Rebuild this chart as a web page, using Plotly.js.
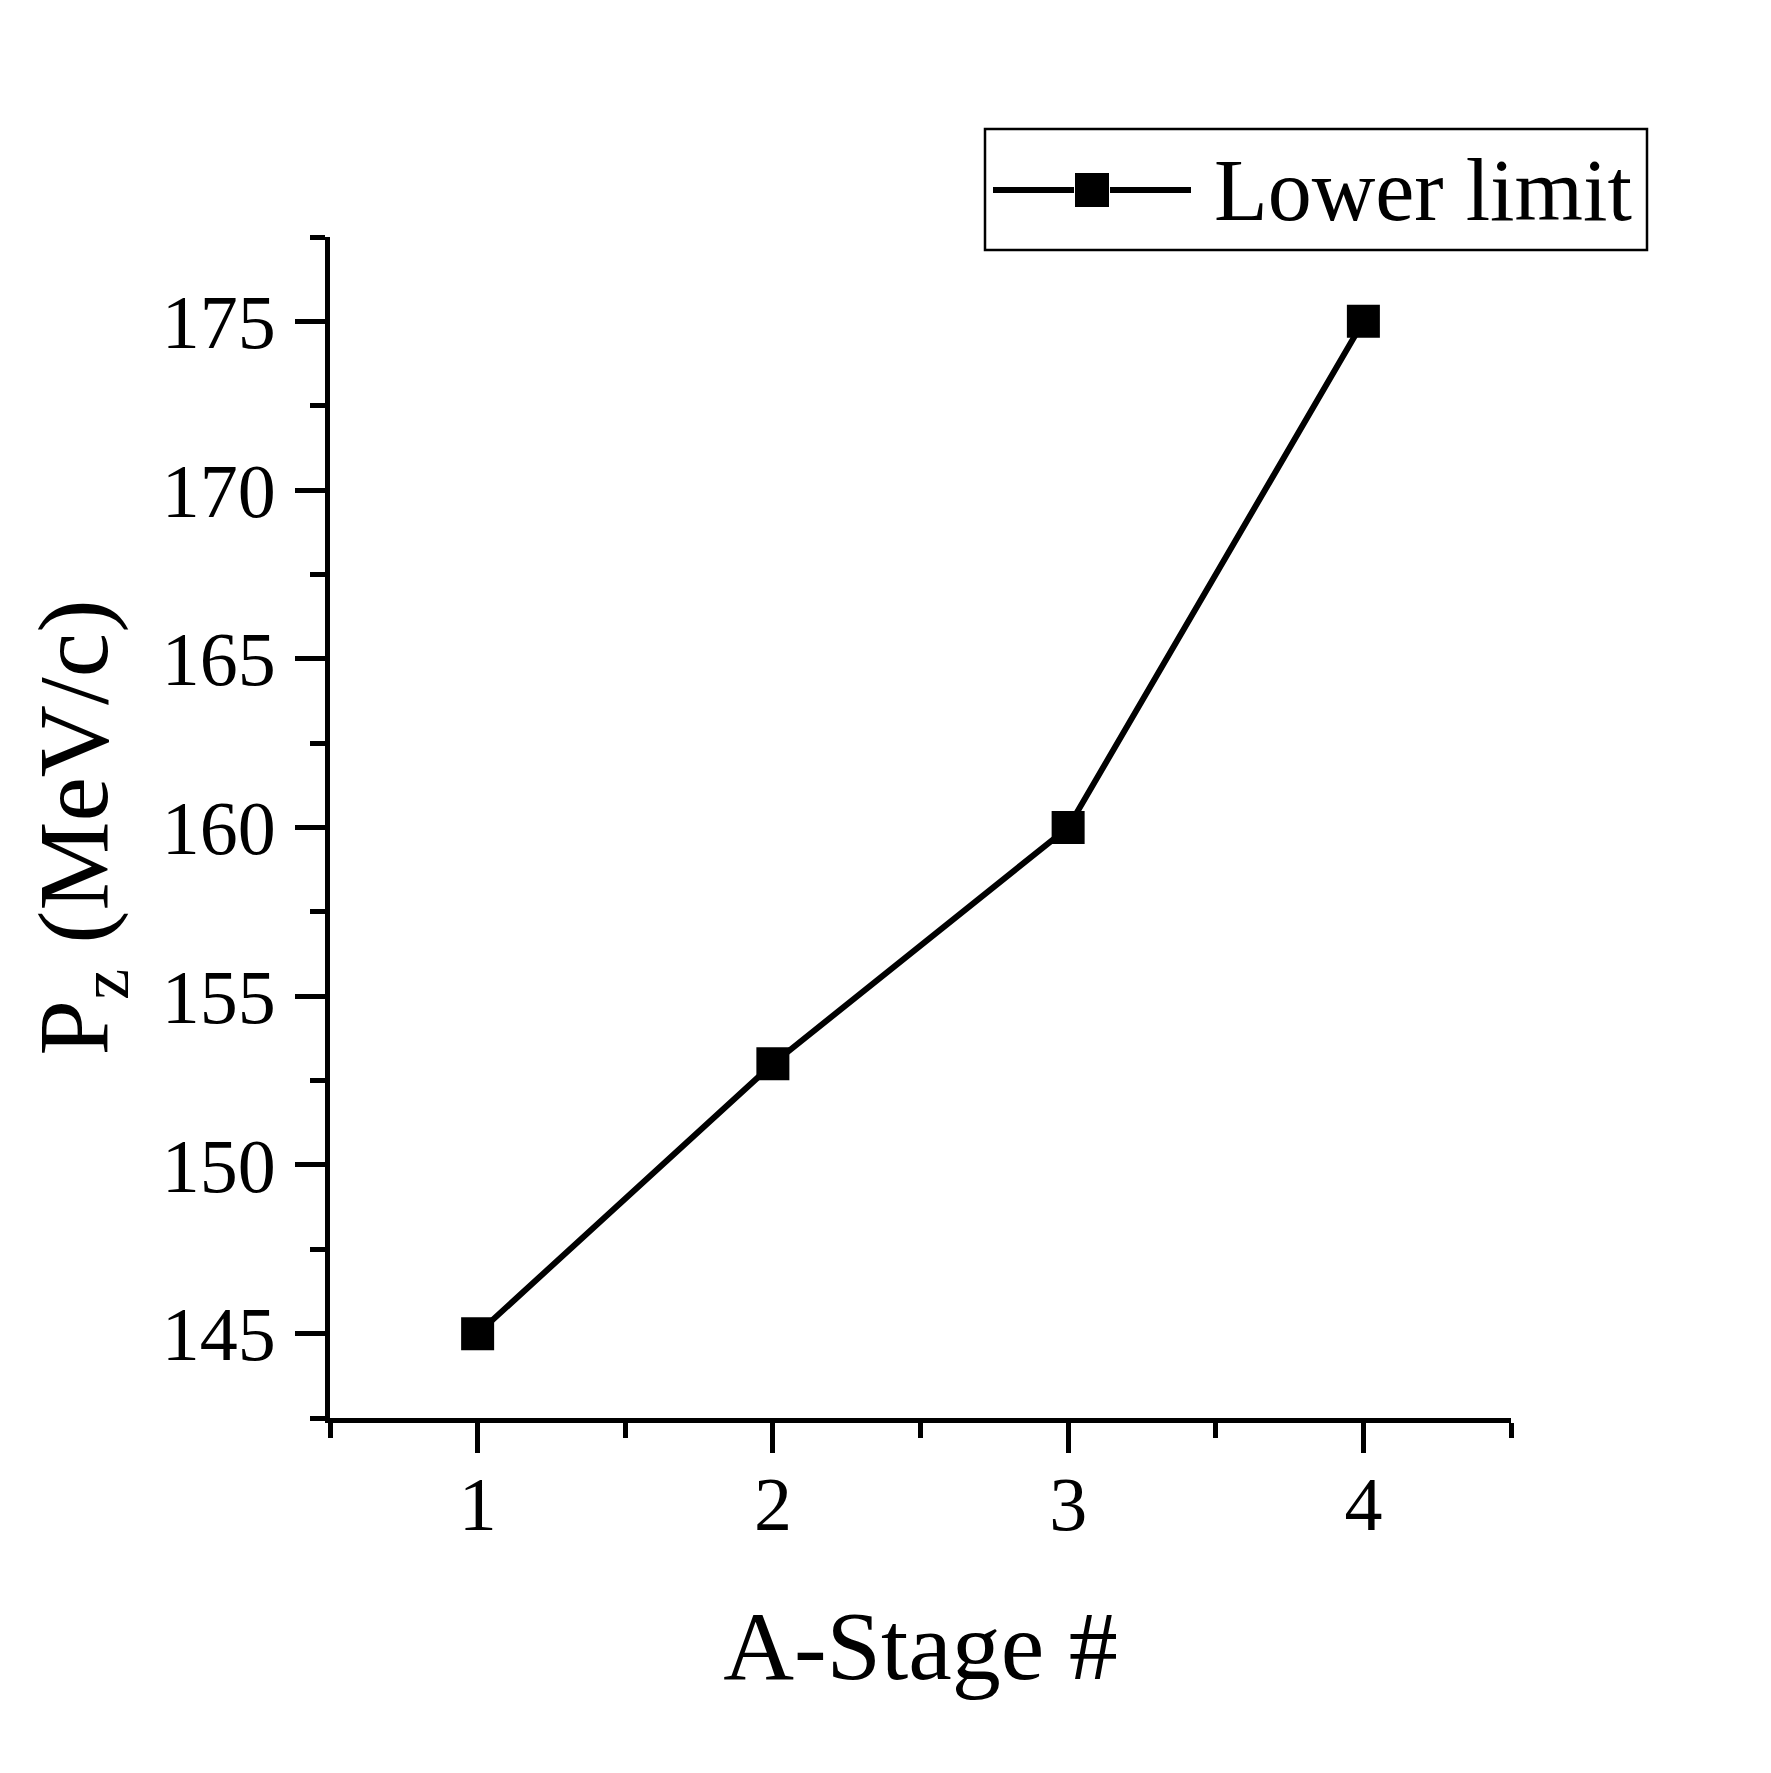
<!DOCTYPE html>
<html>
<head>
<meta charset="utf-8">
<script src="https://cdn.plot.ly/plotly-3.0.1.min.js"></script>
<style>
  html, body { margin: 0; padding: 0; background: #fff; }
  #chart { width: 1771px; height: 1773px; }
</style>
</head>
<body>
<div id="chart"></div>
<script>
/******************** DATA ********************/
const stages = [1, 2, 3, 4];                // A-Stage #
const lowerLimit = [145, 153, 160, 175];    // Pz lower limit (MeV/c)
const seriesName = "Lower limit";

/******************** LAYOUT GEOMETRY (px) ********************/
const W = 1771, H = 1773;
const margin = { l: 330, r: 260, t: 237, b: 355 };
const plotW = W - margin.l - margin.r;
const plotH = H - margin.t - margin.b;

// convert page pixels to paper fractions (used for the hand-drawn legend only)
const px = x => (x - margin.l) / plotW;
const py = y => (H - margin.b - y) / plotH;

const FONT = "Liberation Serif, Times New Roman, serif";
const AXW = 5; // axis / tick stroke

/******************** TRACE ********************/
const trace = {
  x: stages,
  y: lowerLimit,
  name: seriesName,
  type: "scatter",
  mode: "lines+markers",
  line: { color: "#000", width: 6 },
  marker: { symbol: "square", size: 33, color: "#000" },
  showlegend: false
};

/******************** LEGEND (drawn by hand to match the long sample line) ********************/
const legendY = 190;
const legendShapes = [
  { type: "rect", xref: "paper", yref: "paper",
    x0: px(985), x1: px(1647), y0: py(250), y1: py(129),
    line: { color: "#000", width: 2.5 }, fillcolor: "#fff" },
  { type: "line", xref: "paper", yref: "paper",
    x0: px(993), x1: px(1074), y0: py(legendY), y1: py(legendY),
    line: { color: "#000", width: 6 } },
  { type: "line", xref: "paper", yref: "paper",
    x0: px(1110), x1: px(1191), y0: py(legendY), y1: py(legendY),
    line: { color: "#000", width: 6 } },
  { type: "rect", xref: "paper", yref: "paper",
    x0: px(1075), x1: px(1109), y0: py(legendY + 17), y1: py(legendY - 17),
    line: { width: 0 }, fillcolor: "#000" }
];

const legendText = {
  xref: "paper", yref: "paper",
  x: px(1212), y: py(legendY),
  xanchor: "left", yanchor: "middle",
  text: seriesName, showarrow: false,
  font: { family: FONT, size: 88, color: "#000" }
};

/******************** LAYOUT ********************/
const layout = {
  width: W,
  height: H,
  margin: margin,
  paper_bgcolor: "#fff",
  plot_bgcolor: "#fff",
  font: { family: FONT, color: "#000" },
  showlegend: false,
  xaxis: {
    range: [0.5, 4.5],
    tickmode: "linear", tick0: 1, dtick: 1,
    ticks: "outside", ticklen: 30, tickwidth: AXW, tickcolor: "#000",
    minor: { dtick: 0.5, tick0: 0.5, ticks: "outside", ticklen: 15, tickwidth: AXW, tickcolor: "#000" },
    showline: true, linewidth: AXW, linecolor: "#000",
    showgrid: false, zeroline: false,
    tickfont: { family: FONT, size: 76, color: "#000" },
    ticklabelstandoff: -14,
    title: { text: "A-Stage #", font: { family: FONT, size: 98, color: "#000" }, standoff: 67 }
  },
  yaxis: {
    range: [142.5, 177.5],
    tickmode: "linear", tick0: 145, dtick: 5,
    ticks: "outside", ticklen: 30, tickwidth: AXW, tickcolor: "#000",
    minor: { dtick: 2.5, tick0: 142.5, ticks: "outside", ticklen: 15, tickwidth: AXW, tickcolor: "#000" },
    showline: true, linewidth: AXW, linecolor: "#000",
    showgrid: false, zeroline: false,
    tickfont: { family: FONT, size: 76, color: "#000" },
    ticklabelstandoff: 4,
    title: { text: "P<sub>z</sub> (MeV/c)", font: { family: FONT, size: 100, color: "#000" }, standoff: 22 }
  },
  shapes: legendShapes,
  annotations: [legendText]
};

const config = { staticPlot: true, displayModeBar: false };

Plotly.newPlot("chart", [trace], layout, config);
</script>
</body>
</html>
